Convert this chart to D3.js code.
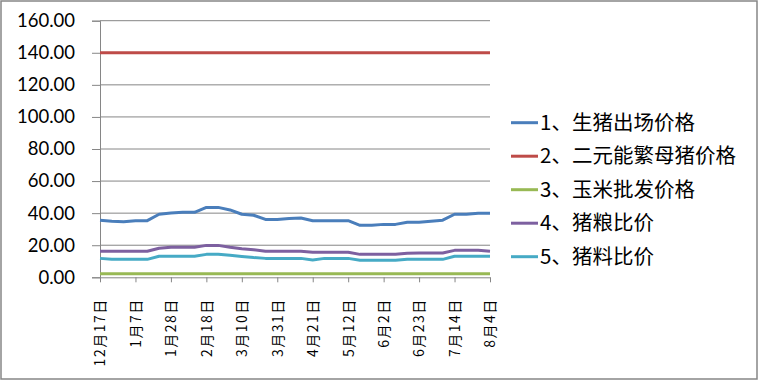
<!DOCTYPE html>
<html><head><meta charset="utf-8">
<script src="https://cdn.jsdelivr.net/npm/d3@7/dist/d3.min.js"></script>
<style>body{margin:0;background:#fff}svg{display:block}</style>
</head><body>
<svg id="c" width="759" height="381"></svg>
<script>
const dates = ["12月17日","12月24日","12月31日","1月7日","1月14日","1月21日","1月28日","2月4日","2月11日","2月18日","2月25日","3月3日","3月10日","3月17日","3月24日","3月31日","4月7日","4月14日","4月21日","4月28日","5月5日","5月12日","5月19日","5月26日","6月2日","6月9日","6月16日","6月23日","6月30日","7月7日","7月14日","7月21日","7月28日","8月4日"];
const shownLabels = ["12月17日","1月7日","1月28日","2月18日","3月10日","3月31日","4月21日","5月12日","6月2日","6月23日","7月14日","8月4日"];
const yTicks = [0,20,40,60,80,100,120,140,160];
const seriesNames = ["1、生猪出场价格","2、二元能繁母猪价格","3、玉米批发价格","4、猪粮比价","5、猪料比价"];
const hogPrice = [35.5,35.0,34.7,35.3,35.3,39.3,40.1,40.5,40.5,43.6,43.6,42.0,39.3,38.7,36.1,36.1,36.7,37.0,35.3,35.3,35.3,35.3,32.4,32.4,33.0,33.0,34.3,34.3,34.9,35.6,39.3,39.3,40.0,40.0];
const sowPrice = [140,140,140,140,140,140,140,140,140,140,140,140,140,140,140,140,140,140,140,140,140,140,140,140,140,140,140,140,140,140,140,140,140,140];
const cornPrice = [2.2,2.2,2.2,2.2,2.2,2.2,2.2,2.2,2.2,2.2,2.2,2.2,2.2,2.2,2.2,2.2,2.2,2.2,2.2,2.2,2.2,2.2,2.2,2.2,2.2,2.2,2.2,2.2,2.2,2.2,2.2,2.2,2.2,2.2];
const hogGrainRatio = [16.2,16.2,16.2,16.2,16.2,18.1,18.7,18.7,18.7,19.9,19.9,18.7,17.8,17.2,16.2,16.2,16.2,16.2,15.6,15.6,15.6,15.6,14.3,14.3,14.3,14.3,15.0,15.2,15.2,15.2,16.8,16.8,16.8,16.2];
const hogFeedRatio = [11.8,11.2,11.2,11.2,11.2,13.1,13.1,13.1,13.1,14.3,14.3,13.7,13.0,12.3,11.8,11.8,11.8,11.8,10.8,11.8,11.8,11.8,10.6,10.6,10.6,10.6,11.2,11.2,11.2,11.2,13.1,13.1,13.1,13.1];
const colors = ["#4A7EBB","#BE4B48","#98B954","#7D60A0","#46AAC5"];
const allSeries = [hogPrice, sowPrice, cornPrice, hogGrainRatio, hogFeedRatio];

const svg = d3.select("#c");
svg.append("rect").attr("x",1).attr("y",1).attr("width",756).attr("height",378)
  .attr("fill","#fff").attr("stroke","#868686").attr("stroke-width",1.5);

const x = d3.scalePoint().domain(dates).range([100,490]);
const y = d3.scaleLinear().domain([0,160]).range([277.3,20.7]);

// gridlines
svg.append("g").selectAll("line").data(yTicks.filter(d=>d>0)).join("line")
  .attr("x1",100).attr("x2",490).attr("y1",d=>y(d)).attr("y2",d=>y(d))
  .attr("stroke","#868686").attr("stroke-width",1);

// y axis
const yAxis = svg.append("g").attr("transform","translate(100,0)")
  .call(d3.axisLeft(y).tickValues(yTicks).tickSize(8).tickPadding(17).tickFormat(d3.format(".2f")));
yAxis.select(".domain").attr("stroke","#868686");
yAxis.selectAll(".tick line").attr("stroke","#868686");
yAxis.selectAll("text").attr("font-family","Lato, 'Open Sans', sans-serif").attr("font-size","18.5px").attr("fill","#000");

// x axis
const xAxis = svg.append("g").attr("transform",`translate(0,${y(0)})`)
  .call(d3.axisBottom(x).tickValues(shownLabels).tickSize(5).tickSizeOuter(0));
xAxis.select(".domain").attr("stroke","#868686");
xAxis.selectAll(".tick line").attr("stroke","#868686");
xAxis.selectAll("text")
  .attr("font-family","'Noto Sans CJK SC', sans-serif").attr("font-size","14px").attr("fill","#000")
  .attr("letter-spacing","1.5px")
  .attr("transform","rotate(-90)").attr("text-anchor","end")
  .attr("x",-21).attr("y",0).attr("dy","0.35em");

// lines
const line = d3.line().x((d,i)=>x(dates[i])).y(d=>y(d));
svg.append("g").selectAll("path").data(allSeries).join("path")
  .attr("d",line).attr("fill","none").attr("stroke",(d,i)=>colors[i])
  .attr("stroke-width",3).attr("stroke-linejoin","round");

// legend
const lg = svg.append("g").selectAll("g").data(seriesNames).join("g")
  .attr("transform",(d,i)=>`translate(511,${122.7 + i*33.5})`);
lg.append("line").attr("x1",0).attr("x2",27).attr("stroke",(d,i)=>colors[i]).attr("stroke-width",3);
lg.append("text").attr("x",29).attr("dy","0.35em").text(d=>d)
  .attr("font-family","'Noto Sans CJK SC', sans-serif").attr("font-size","20.5px").attr("fill","#000");
</script>
</body></html>
